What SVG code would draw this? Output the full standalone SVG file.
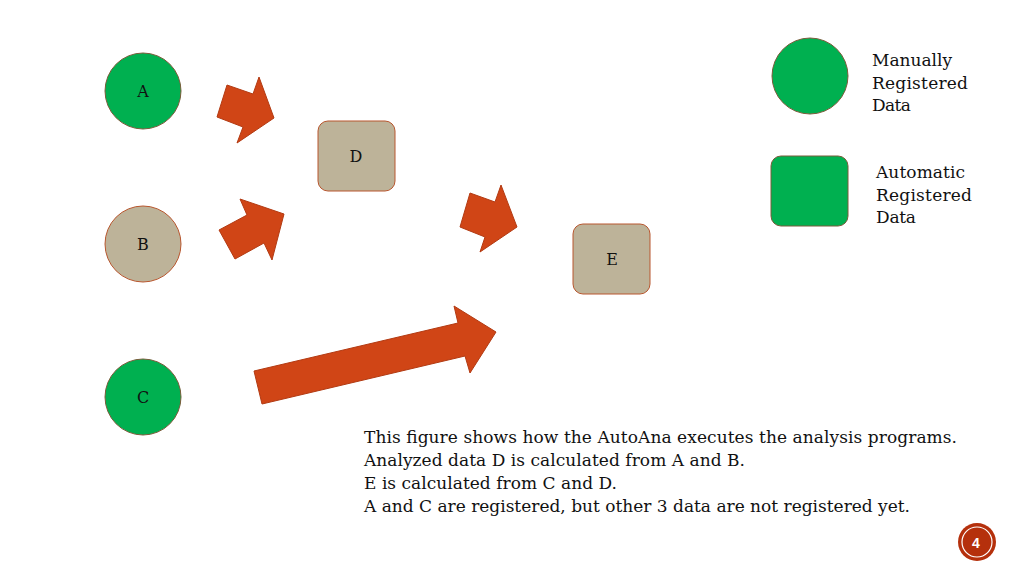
<svg xmlns="http://www.w3.org/2000/svg" width="1024" height="576" viewBox="0 0 1024 576">
<style>
.man{fill:#00B050;stroke:#7A5C3A;stroke-width:1}
.auto{fill:#00B050;stroke:#7A5C3A;stroke-width:1}
.pend{fill:#BDB399;stroke:#B8562E;stroke-width:1}
.arr{fill:#D04516;stroke:#B23A12;stroke-width:1}
.lbl{font-family:"DejaVu Serif","Liberation Serif",serif;font-size:16px;fill:#111;text-anchor:middle}
.txt{font-family:"DejaVu Serif","Liberation Serif",serif;font-size:17px;fill:#111}
</style>
<rect width="1024" height="576" fill="#fff"/>
<g id="connectors">
<polygon class="arr" points="217,117 227,85 253,94 259,77 274,118 237,143 243,127"/>
<polygon class="arr" points="219,230 247,215 240,199 284,214 272,260 264,243 235,259"/>
<polygon class="arr" points="460,227 470,193 495,202 501,185 517,227 480,252 485,237"/>
<polygon class="arr" points="254,371 458,323 454,306 496,332 470,373 465,356 262,404"/>
</g>
<g id="node-A"><circle class="man" cx="143" cy="91" r="38"/><text class="lbl" x="143" y="97">A</text></g>
<g id="node-B"><circle class="pend" cx="143" cy="244" r="38"/><text class="lbl" x="143" y="250">B</text></g>
<g id="node-C"><circle class="man" cx="143" cy="397" r="38"/><text class="lbl" x="143" y="403">C</text></g>
<g id="node-D"><rect class="pend" x="318" y="121" width="77" height="70" rx="10"/><text class="lbl" x="356" y="162">D</text></g>
<g id="node-E"><rect class="pend" x="573" y="224" width="77" height="70" rx="10"/><text class="lbl" x="612" y="265">E</text></g>
<g id="legend-manual"><circle class="man" cx="810" cy="76" r="38"/>
<text class="txt" x="872" y="66" textLength="80">Manually</text>
<text class="txt" x="872" y="89" textLength="96">Registered</text>
<text class="txt" x="872" y="111" textLength="39">Data</text></g>
<g id="legend-auto"><rect class="auto" x="771" y="156" width="77" height="70" rx="10"/>
<text class="txt" x="876" y="178" textLength="89">Automatic</text>
<text class="txt" x="876" y="201" textLength="96">Registered</text>
<text class="txt" x="876" y="223" textLength="40">Data</text></g>
<g id="caption">
<text class="txt" x="364" y="443" textLength="593">This figure shows how the AutoAna executes the analysis programs.</text>
<text class="txt" x="364" y="466" textLength="381">Analyzed data D is calculated from A and B.</text>
<text class="txt" x="364" y="489" textLength="253">E is calculated from C and D.</text>
<text class="txt" x="364" y="512" textLength="546">A and C are registered, but other 3 data are not registered yet.</text>
</g>
<g id="page-number">
<circle cx="977" cy="542" r="19" fill="#B5300C"/>
<circle cx="977" cy="542" r="15" fill="none" stroke="#fff" stroke-width="1.2"/>
<text x="976" y="548" font-family="Liberation Sans,sans-serif" font-size="14" font-weight="bold" fill="#fff" text-anchor="middle">4</text>
</g>
</svg>
